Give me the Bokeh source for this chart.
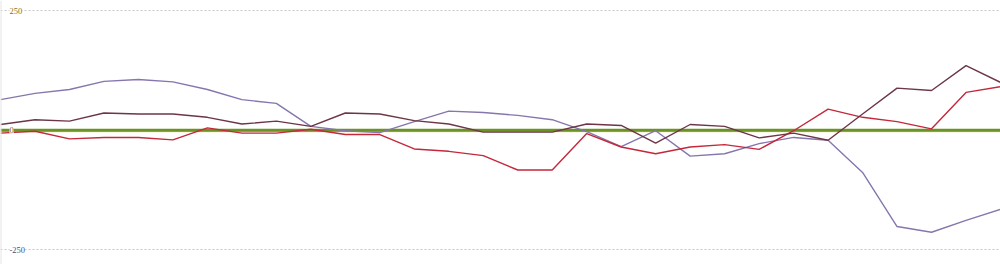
from bokeh.plotting import figure
from bokeh.models import Range1d, ColumnDataSource, Span, LabelSet
from bokeh.embed import file_html
from bokeh.resources import INLINE

# periods (30 points)
periods = list(range(30))

purple = [64, 77, 85, 102, 106, 101, 85, 64, 56, 8,
          -1, -5, 18, 40, 37, 31, 22, -3, -34, -1,
          -54, -49, -28, -15, -21, -88, -201, -213, -188, -165]

brown = [12, 22, 19, 36, 34, 34, 27, 13, 19, 8,
         36, 34, 20, 13, -4, -4, -4, 13, 10, -27,
         12, 8, -16, -6, -21, 34, 88, 83, 135, 100]

red = [-6, -2, -18, -15, -15, -20, 5, -6, -6, 2,
       -9, -9, -39, -44, -53, -83, -83, -7, -35, -49,
       -35, -30, -40, -1, 44, 27, 18, 3, 79, 91]

baseline_green = [0] * 30
baseline_yellow = [-3] * 30

tick_values = [250, 0, -250]
tick_labels = ["250", "0", "-250"]
tick_colors = ["#8a7028", "#7a6030", "#3f4f80"]

p = figure(width=1000, height=264, output_backend="svg", toolbar_location=None,
           x_range=Range1d(0, 29), y_range=Range1d(-280.3, 270.9),
           min_border=0, min_border_left=0, min_border_right=0,
           min_border_top=0, min_border_bottom=0)
p.axis.visible = False
p.xgrid.visible = False
p.ygrid.ticker = [250, -250]
p.ygrid.grid_line_color = "#c8c8c8"
p.ygrid.grid_line_dash = "2 2"
p.ygrid.grid_line_width = 1
p.outline_line_color = None
p.background_fill_color = "white"
p.border_fill_color = "white"

p.add_layout(Span(location=0, dimension="height", line_color="#e6e6e6", line_width=2))

p.line(periods, baseline_yellow, line_color="#e6dc96", line_width=1.2)
p.line(periods, baseline_green, line_color="#6b9224", line_width=3)
p.line(periods, purple, line_color="#8676ad", line_width=1.4)
p.line(periods, red, line_color="#c4283a", line_width=1.4)
p.line(periods, brown, line_color="#6c3646", line_width=1.4)

src = ColumnDataSource(dict(x=[0.26] * 3, y=tick_values, t=tick_labels, c=tick_colors))
labels = LabelSet(x="x", y="y", text="t", source=src, text_color="c",
                  text_font="Liberation Sans", text_font_size="8.5px",
                  text_align="left", text_baseline="middle",
                  background_fill_color="white", background_fill_alpha=1.0)
p.add_layout(labels)

open("out.html", "w").write(file_html(p, INLINE))
